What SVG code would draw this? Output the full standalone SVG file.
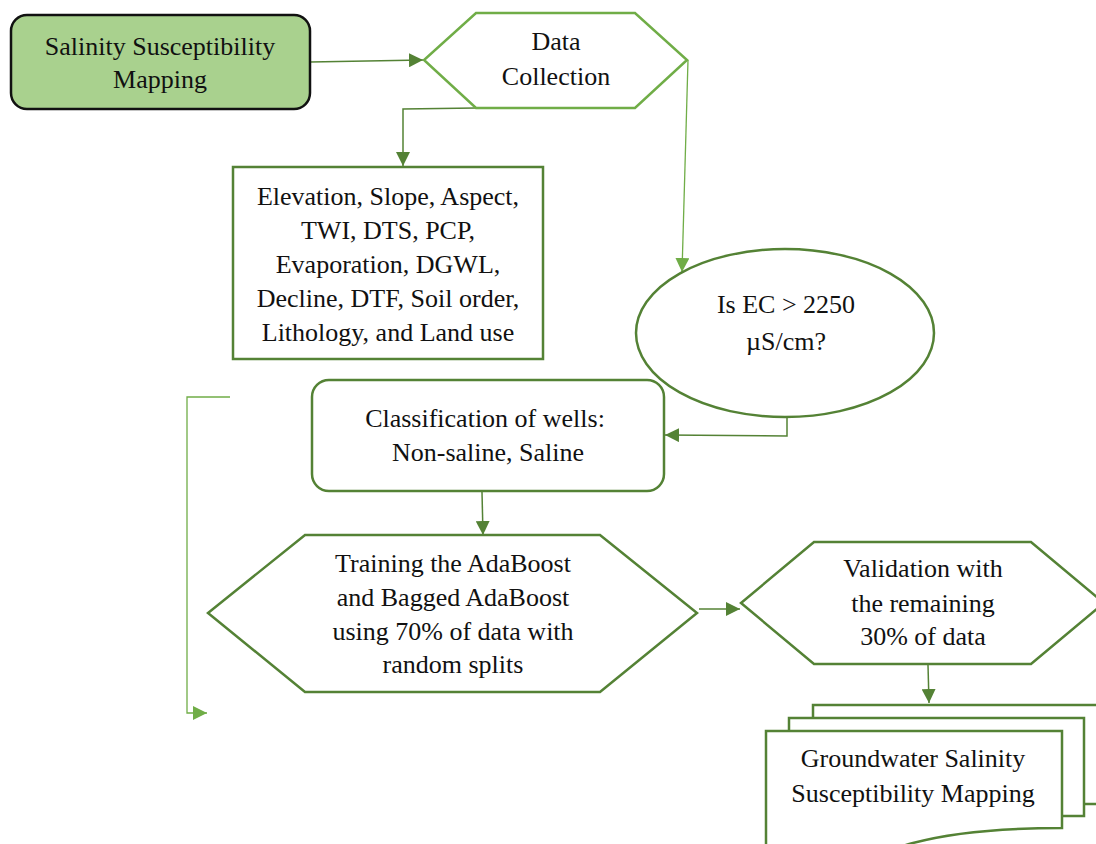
<svg xmlns="http://www.w3.org/2000/svg" width="1096" height="844" viewBox="0 0 1096 844">
<defs>
<style>
text{font-family:"Liberation Serif","Times New Roman",serif;font-size:26px;fill:#111;text-anchor:middle}
.dk{fill:#fff;stroke:#548235;stroke-width:2.5}
.lt{fill:#fff;stroke:#70ad47;stroke-width:2.5}
.cd{fill:none;stroke:#548235;stroke-width:1.5}
.cl{fill:none;stroke:#70ad47;stroke-width:1.3}
</style>
<marker id="ad" markerUnits="userSpaceOnUse" markerWidth="16" markerHeight="14" refX="14" refY="7" orient="auto"><path d="M0,0 L14,7 L0,14 Z" fill="#548235"/></marker>
<marker id="al" markerUnits="userSpaceOnUse" markerWidth="16" markerHeight="14" refX="14" refY="7" orient="auto"><path d="M0,0 L14,7 L0,14 Z" fill="#70ad47"/></marker>
</defs>
<rect width="1096" height="844" fill="#fff"/>
<g id="connectors">
<path class="cd" d="M310,62 L423,60" marker-end="url(#ad)"/>
<path class="cd" d="M476,108 L403,109 L403,166" marker-end="url(#ad)"/>
<path class="cl" d="M688,60 L682,272" marker-end="url(#al)"/>
<path class="cd" d="M787,418 L787,436 L665,435" marker-end="url(#ad)"/>
<path class="cd" d="M482,492 L483,535" marker-end="url(#ad)"/>
<path class="cl" d="M230,397 L187,397 L187,713 L207,713" marker-end="url(#al)"/>
<path class="cd" d="M699,609 L740,609" marker-end="url(#ad)"/>
<path class="cd" d="M928,665 L929,703" marker-end="url(#ad)"/>
</g>
<g id="n-start">
<rect x="11" y="15" width="299" height="94" rx="16" fill="#a9d18e" stroke="#111" stroke-width="2.5"/>
<text x="160" y="55">Salinity Susceptibility</text>
<text x="160" y="88">Mapping</text>
</g>
<g id="n-data">
<polygon class="lt" points="476,13 635,13 687,60 635,108 476,108 424,60"/>
<text x="556" y="50">Data</text>
<text x="556" y="85">Collection</text>
</g>
<g id="n-factors">
<rect class="dk" x="233" y="167" width="310" height="192"/>
<text x="388" y="205">Elevation, Slope, Aspect,</text>
<text x="388" y="239">TWI, DTS, PCP,</text>
<text x="388" y="273">Evaporation, DGWL,</text>
<text x="388" y="307">Decline, DTF, Soil order,</text>
<text x="388" y="341">Lithology, and Land use</text>
</g>
<g id="n-ec">
<ellipse class="dk" cx="785" cy="333" rx="149" ry="84"/>
<text x="786" y="313">Is EC &gt; 2250</text>
<text x="786" y="350">µS/cm?</text>
</g>
<g id="n-class">
<rect class="dk" x="312" y="380" width="352" height="111" rx="17"/>
<text x="485" y="427">Classification of wells:</text>
<text x="488" y="461">Non-saline, Saline</text>
</g>
<g id="n-train">
<polygon class="dk" points="305,535 600,535 697,613 600,692 305,692 208,613"/>
<text x="453" y="572">Training the AdaBoost</text>
<text x="453" y="606">and Bagged AdaBoost</text>
<text x="453" y="640">using 70% of data with</text>
<text x="453" y="673">random splits</text>
</g>
<g id="n-valid">
<polygon class="dk" points="814,542 1031,542 1104,603 1031,664 814,664 741,603"/>
<text x="923" y="577">Validation with</text>
<text x="923" y="612">the remaining</text>
<text x="923" y="645">30% of data</text>
</g>
<g id="n-map">
<path class="dk" d="M813,717 L813,705 L1110,705 L1110,804 L1084,804"/>
<path class="dk" d="M789,731 L789,718 L1084,718 L1084,816 L1062,816"/>
<path class="dk" d="M766,731 L1062,731 L1062,828 C1000,828 950,833 913,843 C870,856 810,860 766,852 Z"/>
<text x="913" y="767">Groundwater Salinity</text>
<text x="913" y="802">Susceptibility Mapping</text>
</g>
</svg>
